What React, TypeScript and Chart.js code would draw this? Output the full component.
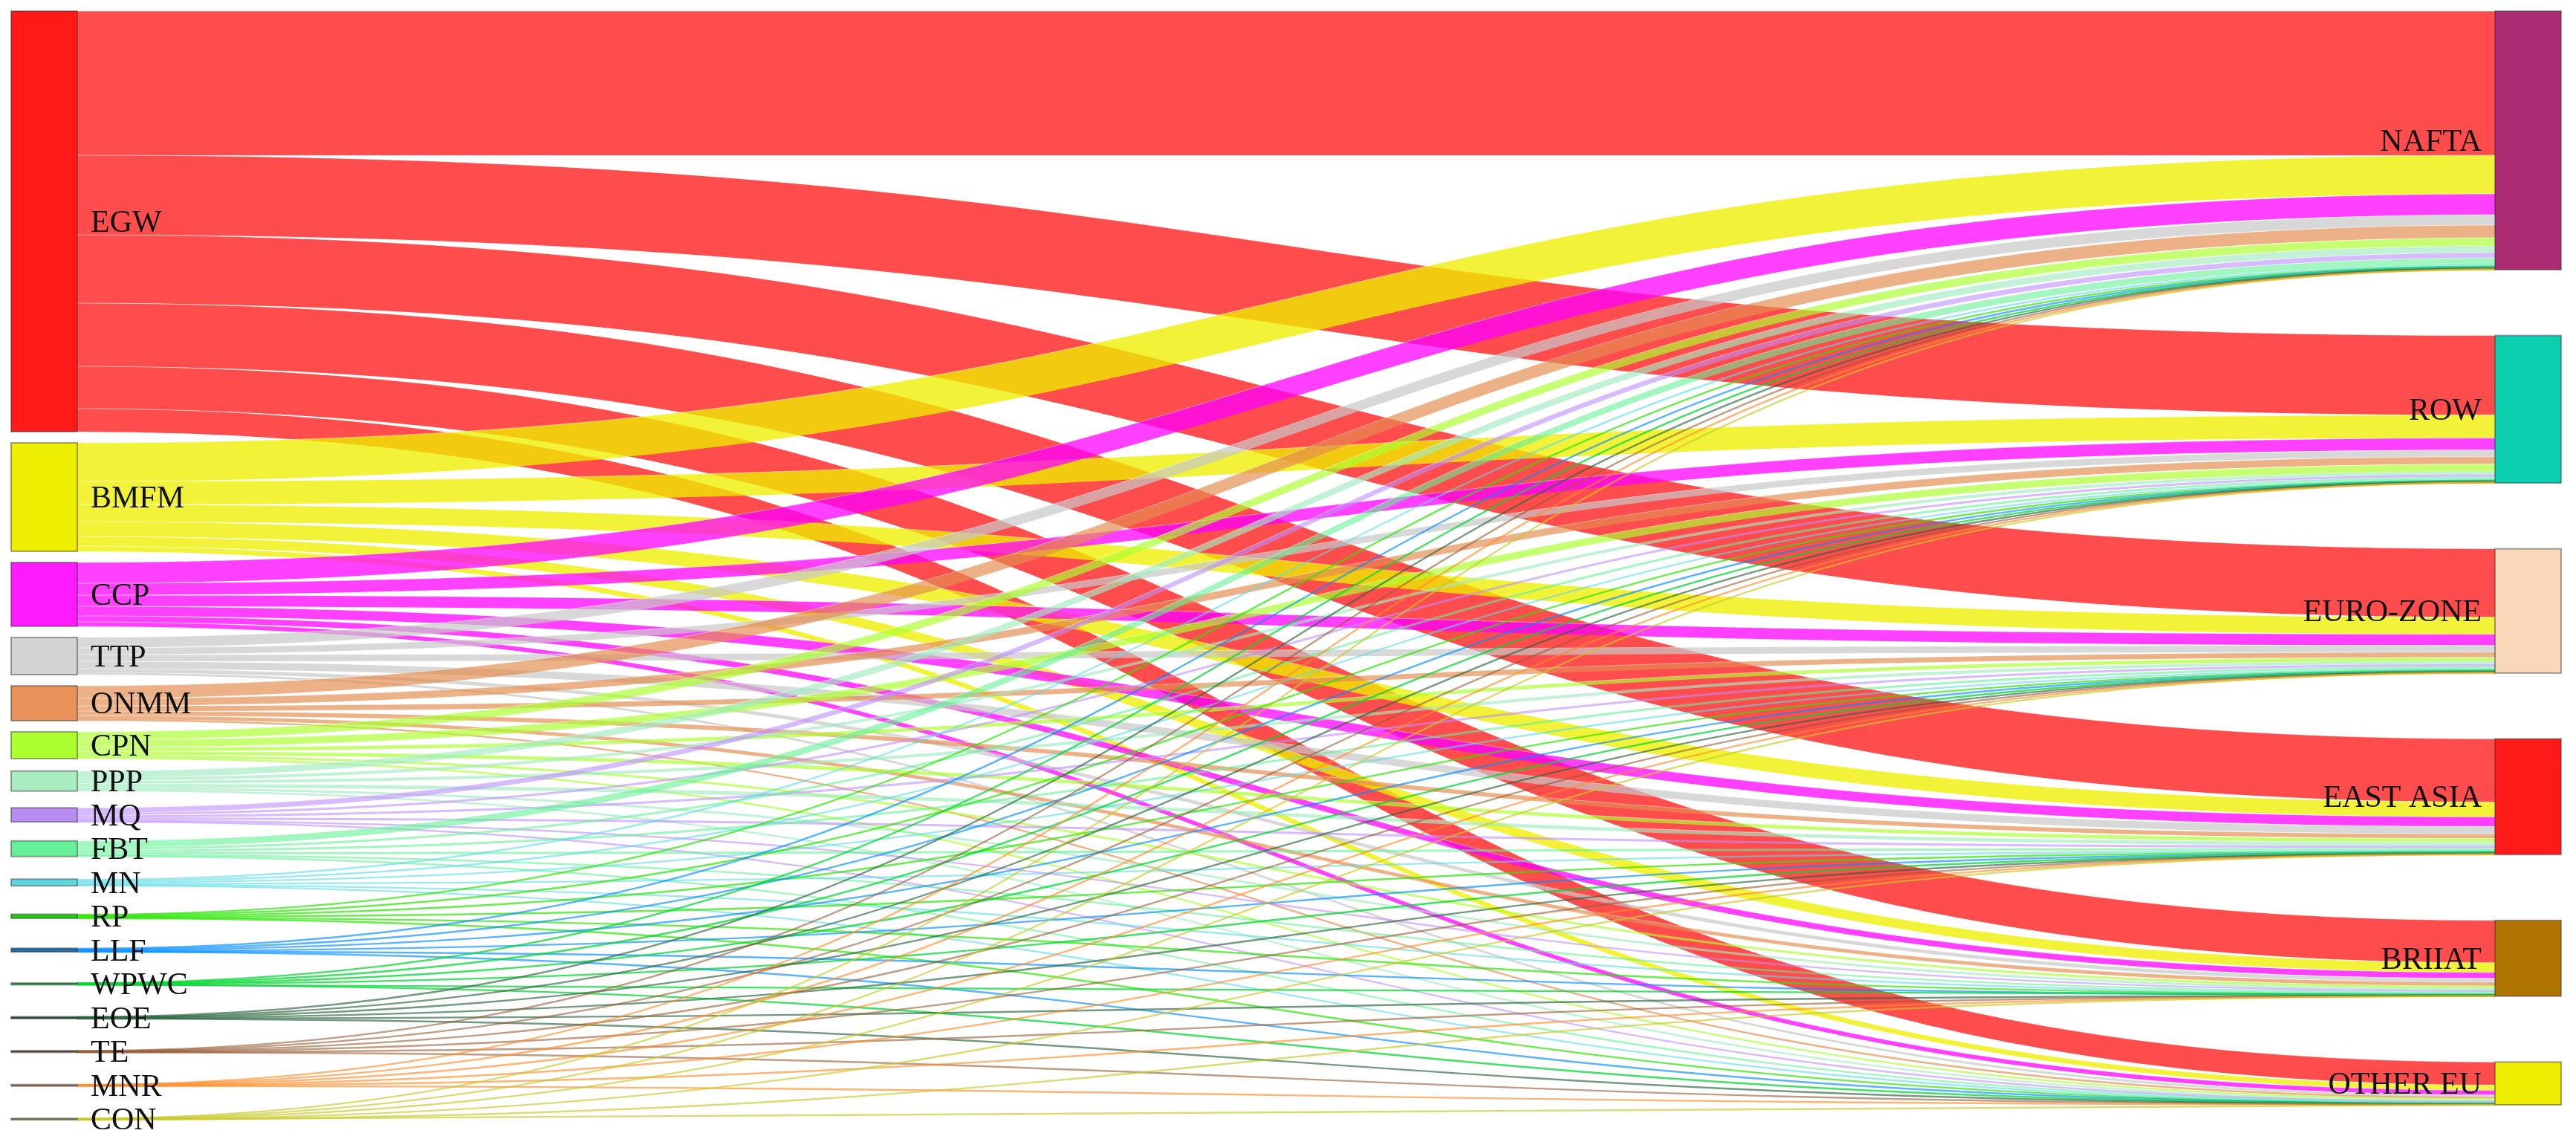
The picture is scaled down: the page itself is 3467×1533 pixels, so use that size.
import React, { useEffect, useRef } from "react";
import { Chart, registerables } from "chart.js";

Chart.register(...registerables);

// ---------- data ----------
const sourceLabels = ["EGW", "BMFM", "CCP", "TTP", "ONMM", "CPN", "PPP", "MQ", "FBT", "MN", "RP", "LLF", "WPWC", "EOE", "TE", "MNR", "CON"];
const targetLabels = ["NAFTA", "ROW", "EURO-ZONE", "EAST ASIA", "BRIIAT", "OTHER EU"];

// flow from each source (in sourceLabels order) to each destination
const toNAFTA = [194, 52, 28, 14, 17, 11, 9, 7, 9, 2, 1.2, 1.2, 0.6, 0.6, 0.5, 0.5, 0.4];
const toROW = [107, 31, 16, 9, 10, 10, 4, 3, 3, 1.5, 1, 0.8, 0.4, 0.5, 0.4, 0.4, 0.4];
const toEUROZONE = [92, 23, 15, 9, 7, 5, 4, 3, 3, 2, 1, 1, 0.5, 0.5, 0.5, 0.3, 0.4];
const toEASTASIA = [85, 20, 13, 10, 6, 5, 5, 3, 3, 1.5, 1, 1, 0.5, 0.5, 0.4, 0.4, 0.4];
const toBRIIAT = [57, 13, 8, 5, 5, 3, 3, 2, 2, 1.3, 0.8, 0.6, 0.3, 0.3, 0.3, 0.2, 0.2];
const toOTHEREU = [31, 7, 6, 3, 2, 2, 2, 1, 1, 0.7, 0.5, 0.4, 0.2, 0.2, 0.2, 0.2, 0.2];

const flowsByTarget = [toNAFTA, toROW, toEUROZONE, toEASTASIA, toBRIIAT, toOTHEREU];

// ---------- styles ----------
const sourceNodeColors = [
  "#ff1a1a", "#eeee00", "#ff1aff", "#d3d3d3", "#e8925a", "#adff2f", "#a8ecc0", "#b88cf0", "#66f09a",
  "#5cd6e0", "#22cc11", "#1a6eb4", "#11aa44", "#1f5a33", "#6b4a30", "#b46a3c", "#8c9a50",
];
const sourceLinkColors = [
  "rgba(255,0,0,0.7)", "rgba(238,238,0,0.78)", "rgba(255,0,255,0.75)", "rgba(200,200,200,0.7)",
  "rgba(228,140,80,0.68)", "rgba(173,255,47,0.68)", "rgba(160,235,190,0.65)", "rgba(190,140,255,0.6)",
  "rgba(100,240,150,0.6)", "rgba(90,220,230,0.6)", "rgba(40,230,0,0.7)", "rgba(0,140,255,0.65)",
  "rgba(0,215,50,0.75)", "rgba(40,100,60,0.65)", "rgba(150,90,50,0.6)", "rgba(255,140,40,0.65)",
  "rgba(200,200,40,0.65)",
];
const targetNodeColors = ["#ac2c74", "#0ccfb0", "#f8d8b8", "#ff1a1a", "#b07400", "#eeee00"];

const Y_MAX = 1472;
const NODE_WIDTH = 89;
const LEFT_GAP = 15;
const MIN_SLOT = 30.5;
const MIN_LINK_PX = 2.4;
const LABEL_OFFSET = 18;
const FONT_SIZE = 42;
const FONT = `${FONT_SIZE}px "Liberation Serif", "Times New Roman", serif`;

const sankeyPlugin = {
  id: "sankeyDraw",
  afterDraw(chart: any) {
    const ctx: CanvasRenderingContext2D = chart.ctx;
    const xs = chart.scales.x;
    const ys = chart.scales.y;
    const py = (v: number) => ys.getPixelForValue(v);

    const nS = sourceLabels.length;
    const nT = targetLabels.length;
    const flow = (i: number, j: number) => flowsByTarget[j][i];

    const srcTot = sourceLabels.map((_, i) => flowsByTarget.reduce((a, arr) => a + arr[i], 0));
    const tgtTot = flowsByTarget.map((arr) => arr.reduce((a, b) => a + b, 0));

    // left column layout (value space)
    const srcTop: number[] = [];
    let cur = 0;
    for (let i = 0; i < nS; i++) {
      const h = srcTot[i];
      const slot = Math.max(h, MIN_SLOT);
      srcTop.push(cur + (slot - h) / 2);
      cur += slot + LEFT_GAP;
    }
    // right column layout: justified
    const sumT = tgtTot.reduce((a, b) => a + b, 0);
    const gapT = (Y_MAX - sumT) / (nT - 1);
    const tgtTop: number[] = [];
    cur = 0;
    for (let j = 0; j < nT; j++) {
      tgtTop.push(cur);
      cur += tgtTot[j] + gapT;
    }

    const xL0 = xs.getPixelForValue(0);
    const xL1 = xL0 + NODE_WIDTH;
    const xR1 = xs.getPixelForValue(1);
    const xR0 = xR1 - NODE_WIDTH;
    const xm = (xL1 + xR0) / 2;

    const srcOff = srcTop.slice();
    const tgtOff = tgtTop.slice();
    const links: any[] = [];
    for (let i = 0; i < nS; i++) {
      for (let j = 0; j < nT; j++) {
        const v = flow(i, j);
        links.push({ i, j, v, s0: srcOff[i], t0: 0 });
        srcOff[i] += v;
      }
    }
    for (let j = 0; j < nT; j++) {
      for (let i = 0; i < nS; i++) {
        const l = links[i * nT + j];
        l.t0 = tgtOff[j];
        tgtOff[j] += l.v;
      }
    }

    ctx.save();
    for (const l of links) {
      const y0t = py(l.s0);
      const y0b = py(l.s0 + l.v);
      const y1t = py(l.t0);
      const y1b = py(l.t0 + l.v);
      const th = y0b - y0t;
      const color = sourceLinkColors[l.i];
      if (th < MIN_LINK_PX) {
        const a = (y0t + y0b) / 2;
        const b = (y1t + y1b) / 2;
        ctx.beginPath();
        ctx.moveTo(xL1, a);
        ctx.bezierCurveTo(xm, a, xm, b, xR0, b);
        ctx.strokeStyle = color;
        ctx.lineWidth = MIN_LINK_PX;
        ctx.stroke();
      } else {
        ctx.beginPath();
        ctx.moveTo(xL1, y0t);
        ctx.bezierCurveTo(xm, y0t, xm, y1t, xR0, y1t);
        ctx.lineTo(xR0, y1b);
        ctx.bezierCurveTo(xm, y1b, xm, y0b, xL1, y0b);
        ctx.closePath();
        ctx.fillStyle = color;
        ctx.fill();
        if (th > 4) {
          ctx.strokeStyle = "rgba(255,255,255,0.45)";
          ctx.lineWidth = 1;
          ctx.beginPath();
          ctx.moveTo(xL1, y0t);
          ctx.bezierCurveTo(xm, y0t, xm, y1t, xR0, y1t);
          ctx.stroke();
        }
      }
    }

    // nodes
    ctx.lineWidth = 2;
    ctx.strokeStyle = "rgba(50,50,50,0.45)";
    for (let i = 0; i < nS; i++) {
      const t = py(srcTop[i]);
      const b = py(srcTop[i] + srcTot[i]);
      ctx.fillStyle = sourceNodeColors[i];
      ctx.fillRect(xL0, t, NODE_WIDTH, b - t);
      ctx.strokeRect(xL0, t, NODE_WIDTH, b - t);
    }
    for (let j = 0; j < nT; j++) {
      const t = py(tgtTop[j]);
      const b = py(tgtTop[j] + tgtTot[j]);
      ctx.fillStyle = targetNodeColors[j];
      ctx.fillRect(xR0, t, NODE_WIDTH, b - t);
      ctx.strokeRect(xR0, t, NODE_WIDTH, b - t);
    }

    // labels
    ctx.font = FONT;
    ctx.fillStyle = "#111";
    ctx.textBaseline = "alphabetic";
    const capShift = FONT_SIZE * 0.33;
    ctx.textAlign = "left";
    for (let i = 0; i < nS; i++) {
      const c = (py(srcTop[i]) + py(srcTop[i] + srcTot[i])) / 2;
      ctx.fillText(sourceLabels[i], xL1 + LABEL_OFFSET, c + capShift);
    }
    ctx.textAlign = "right";
    for (let j = 0; j < nT; j++) {
      const c = (py(tgtTop[j]) + py(tgtTop[j] + tgtTot[j])) / 2;
      ctx.fillText(targetLabels[j], xR0 - LABEL_OFFSET, c + capShift);
    }
    ctx.restore();
  },
};

export default function App() {
  const ref = useRef<HTMLCanvasElement | null>(null);
  useEffect(() => {
    if (!ref.current) return;
    const chart = new Chart(ref.current, {
      type: "scatter",
      data: { datasets: [{ data: [] }] },
      options: {
        animation: false,
        responsive: false,
        maintainAspectRatio: false,
        layout: { padding: { left: 15, right: 20, top: 15, bottom: 46 } },
        plugins: { legend: { display: false }, tooltip: { enabled: false } },
        scales: {
          x: { type: "linear", min: 0, max: 1, display: false },
          y: { type: "linear", min: 0, max: Y_MAX, reverse: true, display: false },
        },
      },
      plugins: [sankeyPlugin],
    } as any);
    return () => chart.destroy();
  }, []);
  return (
    <div style={{ position: "absolute", left: 0, top: 0, width: 3467, height: 1533, background: "#fff" }}>
      <canvas ref={ref} width={3467} height={1533} style={{ display: "block" }} />
    </div>
  );
}
